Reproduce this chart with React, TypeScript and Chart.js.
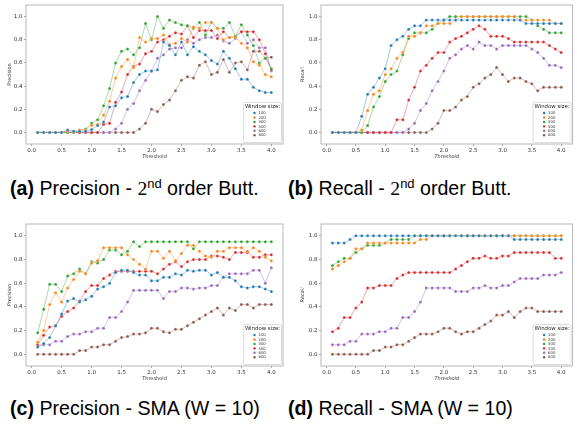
import React, { useEffect, useRef } from "react";
import { Chart, registerables } from "chart.js";
Chart.register(...registerables);

// ---------------- data ----------------
const thresholds = [
  0.1, 0.2, 0.3, 0.4, 0.5, 0.6, 0.7, 0.8, 0.9, 1.0,
  1.1, 1.2, 1.3, 1.4, 1.5, 1.6, 1.7, 1.8, 1.9, 2.0,
  2.1, 2.2, 2.3, 2.4, 2.5, 2.6, 2.7, 2.8, 2.9, 3.0,
  3.1, 3.2, 3.3, 3.4, 3.5, 3.6, 3.7, 3.8, 3.9, 4.0,
];
const windowSizes = ["100", "200", "300", "500", "600", "800"];
const xTickValues = [0, 0.5, 1.0, 1.5, 2.0, 2.5, 3.0, 3.5, 4.0];
const yTickValues = [0, 0.2, 0.4, 0.6, 0.8, 1.0];

// (a) Precision - 2nd order Butterworth
const precButt100 = [0,0,0,0,0, 0.02,0.01,0.01,0.01,0.025, 0.06,0.09,0.22,0.23,0.30, 0.31,0.43,0.50,0.53,0.53, 0.54,0.78,0.75,0.67,0.78, 0.67,0.74,0.70,0.67,0.62, 0.59,0.70,0.64,0.55,0.46, 0.46,0.39,0.36,0.345,0.345];
const precButt200 = [0,0,0,0,0, 0.01,0.01,0.02,0.02,0.06, 0.07,0.15,0.27,0.47,0.57, 0.63,0.56,0.82,0.78,0.81, 0.81,0.84,0.76,0.77,0.81, 0.78,0.91,0.90,0.95,0.95, 0.90,0.80,0.82,0.82,0.77, 0.73,0.61,0.58,0.50,0.48];
const precButt300 = [0,0,0,0,0, 0,0,0.02,0.03,0.08, 0.11,0.23,0.38,0.60,0.70, 0.72,0.67,0.73,0.94,0.80, 1.0,0.90,0.97,0.95,0.93, 0.92,0.90,0.95,0.84,0.95, 0.90,0.90,0.95,0.83,0.93, 0.84,0.75,0.60,0.64,0.55];
const precButt500 = [0,0,0,0,0, 0,0,0,0,0, 0,0.07,0.08,0.26,0.35, 0.50,0.57,0.59,0.68,0.70, 0.78,0.80,0.83,0.86,0.85, 0.92,0.82,0.88,0.88,0.88, 0.81,0.87,0.82,0.83,0.87, 0.87,0.87,0.80,0.68,0.54];
const precButt600 = [0,0,0,0,0, 0,0,0,0,0, 0,0,0,0.03,0.08, 0.20,0.25,0.36,0.45,0.53, 0.64,0.67,0.72,0.73,0.73, 0.80,0.77,0.80,0.82,0.82, 0.84,0.79,0.77,0.81,0.87, 0.77,0.80,0.73,0.73,0.53];
const precButt800 = [0,0,0,0,0, 0,0,0,0,0, 0,0,0,0,0, 0,0,0.03,0.08,0.20, 0.18,0.24,0.28,0.36,0.45, 0.48,0.47,0.58,0.61,0.50, 0.52,0.63,0.52,0.60,0.61, 0.54,0.70,0.70,0.64,0.65];

// (b) Recall - 2nd order Butterworth
const recButt100 = [0,0,0,0,0, 0.14,0.33,0.39,0.47,0.55, 0.75,0.80,0.83,0.89,0.92, 0.92,0.97,0.97,0.97,0.97, 0.97,0.97,0.97,0.97,0.97, 0.97,0.97,0.97,0.97,0.97, 0.97,0.97,0.97,0.94,0.94, 0.94,0.94,0.94,0.94,0.94];
const recButt200 = [0,0,0,0,0, 0.02,0.19,0.33,0.36,0.50, 0.55,0.64,0.69,0.83,0.83, 0.86,0.92,0.92,0.94,0.94, 0.94,0.97,1,1,1, 1,1,1,1,1, 1,1,0.97,0.97,0.97, 0.97,0.97,0.97,0.94,0.94];
const recButt300 = [0,0,0,0,0, 0,0.06,0.22,0.31,0.44, 0.50,0.53,0.67,0.81,0.86, 0.86,0.86,0.89,0.94,0.97, 1,1,1,1,1, 1,1,1,1,1, 1,1,1,1,0.97, 0.92,0.89,0.86,0.86,0.86];
const recButt500 = [0,0,0,0,0, 0,0,0,0,0, 0,0.11,0.11,0.28,0.39, 0.53,0.58,0.64,0.69,0.69, 0.78,0.81,0.83,0.86,0.89, 0.92,0.89,0.83,0.83,0.83, 0.81,0.78,0.78,0.78,0.78, 0.78,0.78,0.75,0.72,0.69];
const recButt600 = [0,0,0,0,0, 0,0,0,0,0, 0,0,0,0.03,0.08, 0.19,0.25,0.36,0.44,0.53, 0.64,0.67,0.72,0.75,0.72, 0.78,0.75,0.75,0.72,0.75, 0.75,0.75,0.75,0.75,0.72, 0.69,0.64,0.58,0.58,0.56];
const recButt800 = [0,0,0,0,0, 0,0,0,0,0, 0,0,0,0,0, 0,0,0.03,0.08,0.19, 0.19,0.22,0.28,0.31,0.39, 0.42,0.47,0.50,0.56,0.50, 0.44,0.47,0.47,0.44,0.42, 0.36,0.39,0.39,0.39,0.39];

// (c) Precision - SMA (W = 10)
const precSma100 = [0.06,0.09,0.14,0.24,0.34, 0.45,0.47,0.44,0.46,0.49, 0.55,0.57,0.60,0.69,0.71, 0.71,0.69,0.67,0.67,0.62, 0.62,0.65,0.65,0.68,0.67, 0.71,0.70,0.71,0.71,0.67, 0.69,0.65,0.65,0.62,0.57, 0.56,0.57,0.57,0.55,0.53];
const precSma200 = [0.10,0.20,0.42,0.52,0.44, 0.56,0.63,0.70,0.68,0.77, 0.79,0.90,0.90,0.90,0.90, 0.84,0.80,0.76,0.72,0.87, 0.87,0.81,0.87,0.79,0.85, 0.92,0.92,0.87,0.83,0.82, 0.87,0.87,0.90,0.90,0.90, 0.87,0.90,0.87,0.82,0.79];
const precSma300 = [0.18,0.38,0.59,0.59,0.53, 0.66,0.68,0.72,0.68,0.78, 0.77,0.80,0.88,0.88,0.84, 0.87,0.95,0.91,0.95,0.95, 0.95,0.95,0.95,0.95,0.95, 0.95,0.89,0.95,0.95,0.95, 0.95,0.95,0.95,0.95,0.95, 0.95,0.95,0.95,0.95,0.95];
const precSma500 = [0.08,0.16,0.23,0.24,0.32, 0.36,0.39,0.45,0.53,0.58, 0.58,0.64,0.67,0.70,0.70, 0.70,0.70,0.70,0.70,0.70, 0.68,0.72,0.76,0.78,0.74, 0.78,0.80,0.80,0.80,0.83, 0.83,0.82,0.80,0.86,0.86, 0.86,0.82,0.82,0.84,0.84];
const precSma600 = [0.07,0.08,0.08,0.11,0.11, 0.15,0.17,0.17,0.19,0.19, 0.22,0.22,0.31,0.31,0.36, 0.44,0.54,0.54,0.54,0.54, 0.54,0.47,0.53,0.53,0.56, 0.56,0.55,0.56,0.56,0.58, 0.58,0.65,0.68,0.68,0.68, 0.68,0.71,0.71,0.60,0.73];
const precSma800 = [0,0,0,0,0, 0,0,0.03,0.03,0.06, 0.06,0.08,0.08,0.11,0.14, 0.15,0.17,0.17,0.18,0.22, 0.22,0.19,0.18,0.21,0.21, 0.24,0.27,0.30,0.33,0.36, 0.39,0.33,0.39,0.37,0.42, 0.42,0.39,0.42,0.42,0.42];

// (d) Recall - SMA (W = 10)
const recSma100 = [0.94,0.94,0.94,0.97,1, 1,1,1,1,1, 1,1,1,1,1, 1,1,1,1,1, 1,1,1,1,1, 1,1,1,1,1, 1,0.97,0.97,0.97,0.97, 0.97,0.97,0.97,0.97,0.97];
const recSma200 = [0.72,0.75,0.78,0.81,0.89, 0.89,0.94,0.94,0.94,0.94, 0.94,0.94,0.94,0.94,0.94, 0.97,0.97,1,1,1, 1,1,1,1,1, 1,1,1,1,1, 1,1,1,1,1, 1,1,1,1,1];
const recSma300 = [0.75,0.78,0.81,0.81,0.86, 0.89,0.92,0.92,0.92,0.94, 0.97,0.97,0.97,0.97,1, 1,1,1,1,1, 1,1,1,1,1, 1,1,1,1,1, 1,1,1,1,1, 1,1,1,1,1];
const recSma500 = [0.19,0.22,0.31,0.31,0.39, 0.44,0.56,0.56,0.58,0.58, 0.58,0.64,0.67,0.69,0.69, 0.69,0.69,0.69,0.69,0.69, 0.69,0.72,0.75,0.78,0.81, 0.81,0.83,0.81,0.81,0.83, 0.83,0.86,0.86,0.86,0.86, 0.86,0.86,0.86,0.81,0.81];
const recSma600 = [0.08,0.08,0.08,0.11,0.11, 0.17,0.17,0.17,0.19,0.19, 0.22,0.22,0.31,0.31,0.36, 0.44,0.56,0.56,0.56,0.56, 0.56,0.53,0.53,0.53,0.56, 0.56,0.58,0.56,0.56,0.58, 0.58,0.61,0.64,0.64,0.64, 0.64,0.67,0.67,0.67,0.69];
const recSma800 = [0,0,0,0,0, 0,0,0.03,0.03,0.06, 0.06,0.08,0.08,0.11,0.14, 0.17,0.17,0.17,0.19,0.22, 0.22,0.19,0.17,0.19,0.19, 0.22,0.25,0.28,0.33,0.33, 0.36,0.31,0.36,0.39,0.39, 0.36,0.36,0.36,0.36,0.36];

// ---------------- styling ----------------
const colors = ["#1f77b4", "#ff7f0e", "#2ca02c", "#d62728", "#9467bd", "#8c564b"];
const FONT = '"DejaVu Sans", sans-serif';

type PanelDef = {
  left: number; top: number; w: number; h: number;
  padTop: number; padRight: number; yWidth: number;
  yTitle: string; yItalic: boolean; xItalic: boolean;
  yTitlePad: number; xTitlePad: number;
  series: number[][];
};

const panels: PanelDef[] = [
  { left: 0, top: 0, w: 288, h: 165, padTop: 5, padRight: 5, yWidth: 26, yTitle: "Precision", yItalic: false, xItalic: false, yTitlePad: 6.3, xTitlePad: 5.3,
    series: [precButt100, precButt200, precButt300, precButt500, precButt600, precButt800] },
  { left: 288, top: 0, w: 289, h: 165, padTop: 5, padRight: 1, yWidth: 33, yTitle: "Recall", yItalic: true, xItalic: true, yTitlePad: 12, xTitlePad: 5.3,
    series: [recButt100, recButt200, recButt300, recButt500, recButt600, recButt800] },
  { left: 0, top: 215, w: 288, h: 172, padTop: 9, padRight: 5, yWidth: 26, yTitle: "Precision", yItalic: true, xItalic: false, yTitlePad: 6.3, xTitlePad: 5.7,
    series: [precSma100, precSma200, precSma300, precSma500, precSma600, precSma800] },
  { left: 288, top: 215, w: 289, h: 172, padTop: 9, padRight: 1, yWidth: 33, yTitle: "Recall", yItalic: true, xItalic: true, yTitlePad: 12, xTitlePad: 5.7,
    series: [recSma100, recSma200, recSma300, recSma500, recSma600, recSma800] },
];

const framePlugin = {
  id: "frame",
  afterDraw(chart: any) {
    const { ctx, chartArea: a } = chart;
    ctx.save();
    ctx.strokeStyle = "#b8b8b8";
    ctx.lineWidth = 1;
    ctx.strokeRect(a.left, a.top, a.right - a.left, a.bottom - a.top);
    ctx.restore();
  },
};

const legendPlugin = {
  id: "insideLegend",
  afterDraw(chart: any) {
    const { ctx, chartArea: a } = chart;
    const w = 38, h = 40;
    const x0 = a.right - w - 1.5, y0 = a.bottom - h - 1.5;
    ctx.save();
    ctx.beginPath();
    const r = 1.5;
    ctx.moveTo(x0 + r, y0);
    ctx.lineTo(x0 + w - r, y0);
    ctx.quadraticCurveTo(x0 + w, y0, x0 + w, y0 + r);
    ctx.lineTo(x0 + w, y0 + h - r);
    ctx.quadraticCurveTo(x0 + w, y0 + h, x0 + w - r, y0 + h);
    ctx.lineTo(x0 + r, y0 + h);
    ctx.quadraticCurveTo(x0, y0 + h, x0, y0 + h - r);
    ctx.lineTo(x0, y0 + r);
    ctx.quadraticCurveTo(x0, y0, x0 + r, y0);
    ctx.closePath();
    ctx.fillStyle = "rgba(255,255,255,0.85)";
    ctx.fill();
    ctx.strokeStyle = "#d6d6d6";
    ctx.lineWidth = 0.8;
    ctx.stroke();
    ctx.fillStyle = "#222";
    ctx.textBaseline = "middle";
    ctx.textAlign = "center";
    ctx.font = `5.4px ${FONT}`;
    ctx.fillText("Window size:", x0 + w / 2, y0 + 4.3);
    ctx.textAlign = "left";
    ctx.font = `3.8px ${FONT}`;
    windowSizes.forEach((lab, i) => {
      const yy = y0 + 10.5 + i * 4.45;
      ctx.beginPath();
      ctx.arc(x0 + 11, yy, 1.2, 0, Math.PI * 2);
      ctx.fillStyle = colors[i];
      ctx.fill();
      ctx.fillStyle = "#333";
      ctx.fillText(lab, x0 + 15, yy + 0.2);
    });
    ctx.restore();
  },
};

function PanelChart({ p }: { p: PanelDef }) {
  const ref = useRef<HTMLCanvasElement>(null);
  useEffect(() => {
    const datasets = p.series.map((vals, i) => ({
      label: windowSizes[i],
      data: thresholds.map((t, j) => ({ x: t, y: vals[j] })),
      borderColor: colors[i] + "80",
      backgroundColor: colors[i],
      borderWidth: 0.8,
      pointRadius: 1.5,
      pointBackgroundColor: colors[i],
      pointBorderColor: "rgba(255,255,255,0.7)",
      pointBorderWidth: 0.4,
      tension: 0,
      fill: false,
    }));
    const tickFont = { family: FONT, size: 5.5 };
    const chart = new Chart(ref.current as HTMLCanvasElement, {
      type: "line",
      data: { datasets },
      plugins: [framePlugin, legendPlugin],
      options: {
        animation: false,
        responsive: false,
        devicePixelRatio: 1,
        layout: { padding: { top: p.padTop, right: p.padRight, left: 0, bottom: 0 } },
        plugins: { legend: { display: false }, tooltip: { enabled: false } },
        scales: {
          x: {
            type: "linear",
            min: -0.095,
            max: 4.195,
            afterBuildTicks: (s: any) => { s.ticks = xTickValues.map((v) => ({ value: v })); },
            afterFit: (s: any) => { s.height = 21; },
            ticks: { font: tickFont, color: "#333", padding: 1, maxRotation: 0, autoSkip: false, callback: (v: any) => Number(v).toFixed(1) },
            grid: { display: true, drawOnChartArea: false, drawTicks: true, tickLength: 2, color: "#666", lineWidth: 0.6 },
            border: { display: false },
            title: { display: true, text: "Threshold", color: "#333", font: { family: FONT, size: 5, style: p.xItalic ? "italic" : "normal" }, padding: { top: 0, bottom: p.xTitlePad } },
          },
          y: {
            type: "linear",
            min: -0.1,
            max: 1.1,
            afterBuildTicks: (s: any) => { s.ticks = yTickValues.map((v) => ({ value: v })); },
            afterFit: (s: any) => { s.width = p.yWidth; },
            ticks: { font: tickFont, color: "#333", padding: 1.5, autoSkip: false, callback: (v: any) => Number(v).toFixed(1) },
            grid: { display: true, drawOnChartArea: false, drawTicks: true, tickLength: 2, color: "#666", lineWidth: 0.6 },
            border: { display: false },
            title: { display: true, text: p.yTitle, color: "#333", font: { family: FONT, size: 5, style: p.yItalic ? "italic" : "normal" }, padding: { top: p.yTitlePad, bottom: 0 } },
          },
        },
      } as any,
    });
    return () => chart.destroy();
  }, []);
  return (
    <canvas
      ref={ref}
      width={p.w}
      height={p.h}
      style={{ position: "absolute", left: p.left, top: p.top, width: p.w, height: p.h }}
    />
  );
}

const capStyle: React.CSSProperties = {
  position: "absolute",
  fontFamily: '"Liberation Sans", Arial, sans-serif',
  fontSize: 19.6,
  lineHeight: "22px",
  whiteSpace: "nowrap",
  color: "#000",
};
const two = <span style={{ fontFamily: '"Liberation Serif", serif' }}>2</span>;
const sup = <span style={{ fontSize: 13, position: "relative", top: -7 }}>nd</span>;

export default function App() {
  return (
    <div style={{ position: "absolute", left: 0, top: 0, width: 577, height: 428, background: "#fff", overflow: "hidden" }}>
      {panels.map((p, i) => <PanelChart key={i} p={p} />)}
      <div style={{ ...capStyle, left: 10, top: 177 }}><b>(a)</b> Precision - {two}{sup} order Butt.</div>
      <div style={{ ...capStyle, left: 288, top: 177 }}><b>(b)</b> Recall - {two}{sup} order Butt.</div>
      <div style={{ ...capStyle, left: 10, top: 397 }}><b>(c)</b> Precision - SMA (W = 10)</div>
      <div style={{ ...capStyle, left: 288, top: 397 }}><b>(d)</b> Recall - SMA (W = 10)</div>
    </div>
  );
}
